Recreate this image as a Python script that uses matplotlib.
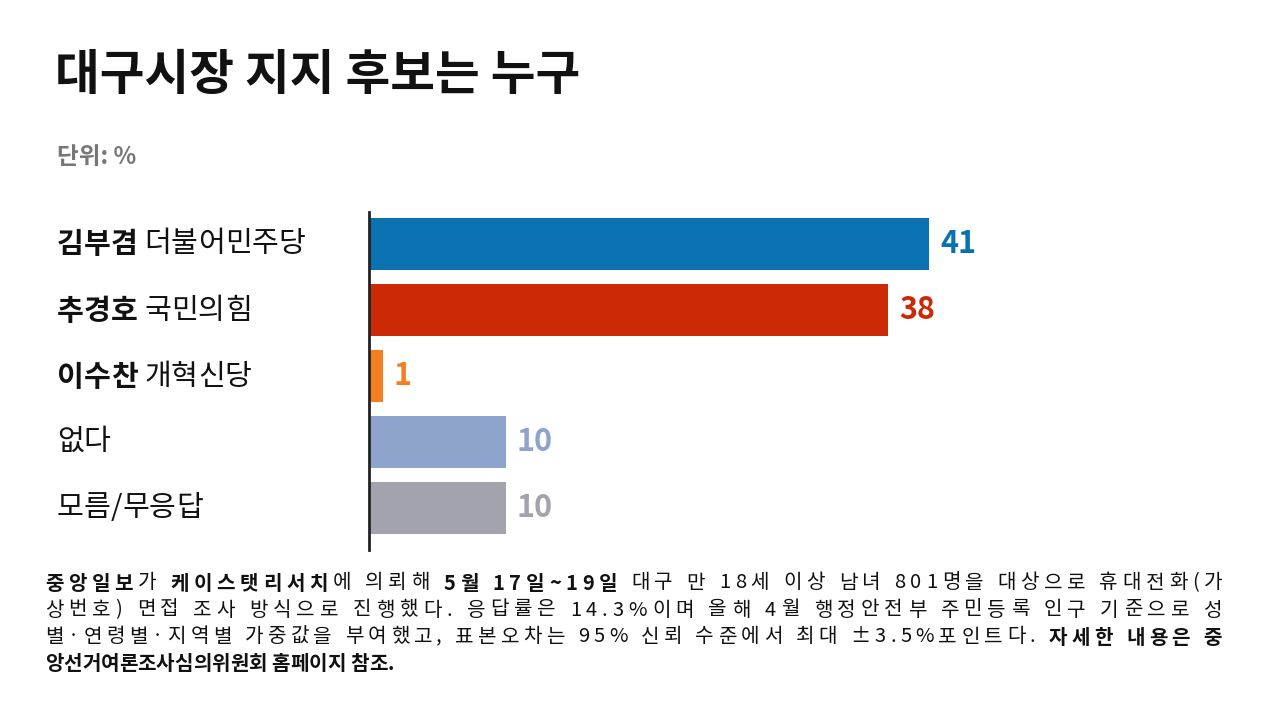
import matplotlib
matplotlib.use("Agg")
import matplotlib.pyplot as plt

plt.rcParams['font.family'] = ['Noto Sans CJK KR', 'DejaVu Sans']

names = ["김부겸", "추경호", "이수찬", "없다", "모름/무응답"]
parties = ["더불어민주당", "국민의힘", "개혁신당", "", ""]
values = [41, 38, 1, 10, 10]
colors = ["#0a72b0", "#cc2a06", "#f47f20", "#8fa4cc", "#a3a3ad"]

W, H = 1273, 702
fig = plt.figure(figsize=(W/100, H/100), dpi=100)

def px(x, y):
    return x/W, 1 - y/H

ax = fig.add_axes([369/W, 1-550/H, (1200-369)/W, (550-212)/H])
ypos = list(range(len(values)))
ax.barh(ypos, values, height=0.79, color=colors)
ax.set_xlim(0, (1200-369)/13.66)
ax.set_ylim(4.636, -0.485)
for s in ["top", "right", "bottom"]:
    ax.spines[s].set_visible(False)
ax.spines["left"].set_linewidth(2)
ax.spines["left"].set_color("#222222")
ax.set_xticks([]); ax.set_yticks([])
for y, v, c in zip(ypos, values, colors):
    ax.text(v + 0.8, y, str(v), color=c, fontsize=22, fontweight='heavy', va='center', ha='left')

fig.text(*px(55, 75), "대구시장 지지 후보는 누구", fontsize=35, fontweight='heavy', va='center', color="#111111")
fig.text(*px(57, 157), "단위: %", fontsize=17, fontweight='bold', va='center', color="#777777")

fig.canvas.draw()
r = fig.canvas.get_renderer()

def segs(x0, y0, parts, fs, total=None):
    chars = [(ch, b) for t, b in parts for ch in t]
    widths = []
    for ch, b in chars:
        tt = fig.text(0, 0, ch if ch != " " else "a a", fontsize=fs, fontweight='bold' if b else 'normal')
        w = tt.get_window_extent(r).width
        if ch == " ":
            t2 = fig.text(0, 0, "aa", fontsize=fs, fontweight='bold' if b else 'normal')
            w = w - t2.get_window_extent(r).width
            t2.remove()
        tt.remove()
        widths.append(w)
    gap = 0
    if total is not None and len(chars) > 1:
        gap = (total - sum(widths)) / (len(chars) - 1)
    x = x0
    for (ch, b), w in zip(chars, widths):
        if ch != " ":
            fig.text(x/W, 1 - y0/H, ch, fontsize=fs, fontweight='bold' if b else 'normal',
                     va='center', ha='left', color="#111111")
        x += w + gap

centers = [244, 311, 377, 442, 508]
for n, p, yc in zip(names, parties, centers):
    parts = [(n, bool(p))]
    if p:
        parts.append((" " + p, False))
    segs(57, yc, parts, 21)

foot = [
    [("중앙일보", True), ("가 ", False), ("케이스탯리서치", True), ("에 의뢰해 ", False), ("5월 17일~19일", True),
     (" 대구 만 18세 이상 남녀 801명을 대상으로 휴대전화(가", False)],
    [("상번호) 면접 조사 방식으로 진행했다. 응답률은 14.3%이며 올해 4월 행정안전부 주민등록 인구 기준으로 성", False)],
    [("별·연령별·지역별 가중값을 부여했고, 표본오차는 95% 신뢰 수준에서 최대 ±3.5%포인트다. ", False),
     ("자세한 내용은 중", True)],
    [("앙선거여론조사심의위원회 홈페이지 참조.", True)],
]
for i, (parts, yy) in enumerate(zip(foot, [583, 610, 637, 664])):
    segs(45, yy, parts, 14.5, total=1177 if i < 3 else None)

fig.savefig("out.png", dpi=100)
